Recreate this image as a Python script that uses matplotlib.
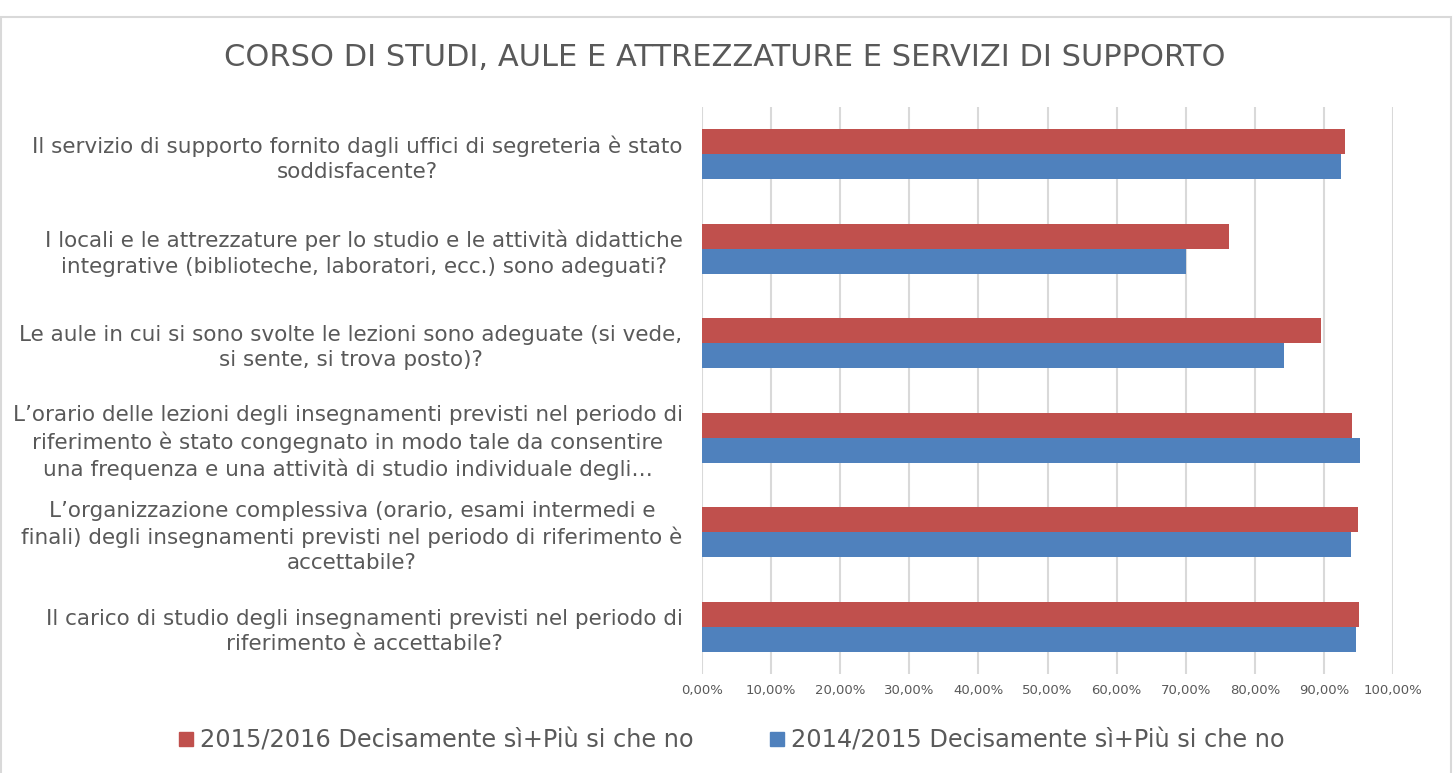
import matplotlib.pyplot as plt
from matplotlib.patches import Rectangle, Patch
import numpy as np

# categories, bottom to top
domande = [
    "Il carico di studio degli insegnamenti previsti nel periodo di\nriferimento è accettabile?",
    "L\u2019organizzazione complessiva (orario, esami intermedi e\nfinali) degli insegnamenti previsti nel periodo di riferimento è\naccettabile?",
    "L\u2019orario delle lezioni degli insegnamenti previsti nel periodo di\nriferimento è stato congegnato in modo tale da consentire\nuna frequenza e una attività di studio individuale degli\u2026",
    "Le aule in cui si sono svolte le lezioni sono adeguate (si vede,\nsi sente, si trova posto)?",
    "I locali e le attrezzature per lo studio e le attività didattiche\nintegrative (biblioteche, laboratori, ecc.) sono adeguati?",
    "Il servizio di supporto fornito dagli uffici di segreteria è stato\nsoddisfacente?",
]
val_2016 = [95.1, 94.9, 94.1, 89.6, 76.3, 93.0]
val_2015 = [94.7, 93.9, 95.2, 84.2, 70.1, 92.4]
lab_2016 = "2015/2016 Decisamente sì+Più si che no"
lab_2015 = "2014/2015 Decisamente sì+Più si che no"
tick_vals = np.arange(0, 101, 10)

rosso = '#C0504D'
blu = '#4F81BD'
grigio = '#595959'

plt.rcParams['font.family'] = ['DejaVu Sans']
fig = plt.figure(figsize=(14.55, 7.73), dpi=100)
fig.patches.append(Rectangle((0.0005, -0.01), 0.997, 0.988, transform=fig.transFigure,
                             fill=False, edgecolor='#d9d9d9', linewidth=1.5))

ax = fig.add_axes([0.4825, 0.1281, 0.4749, 0.7335])
y = np.arange(len(domande))
h = 0.265
ax.barh(y + h / 2, val_2016, height=h, color=rosso, zorder=3)
ax.barh(y - h / 2, val_2015, height=h, color=blu, zorder=3)

ax.set_xlim(0, 100)
ax.set_ylim(-0.5, len(domande) - 0.5)
ax.set_xticks(tick_vals)
ax.set_xticklabels(['{:.2f}%'.format(v).replace('.', ',') for v in tick_vals],
                   fontsize=9.5, color=grigio)
ax.set_yticks(y)
ax.set_yticklabels(domande, fontsize=15.5, color=grigio, multialignment='center',
                   linespacing=1.32)
ax.tick_params(length=0)
ax.tick_params(axis='y', pad=14)
ax.tick_params(axis='x', pad=7)
ax.grid(axis='x', color='#d9d9d9', linewidth=1.5, zorder=0)
for s in ax.spines.values():
    s.set_visible(False)

fig.text(0.498, 0.925, "CORSO DI STUDI, AULE E ATTREZZATURE E SERVIZI DI SUPPORTO",
         ha='center', va='center', fontsize=22, color=grigio)

handles = [Patch(color=rosso, label=lab_2016), Patch(color=blu, label=lab_2015)]
fig.legend(handles=handles, loc='center', bbox_to_anchor=(0.503, 0.042), ncol=2,
           frameon=False, fontsize=17.3, labelcolor=grigio, handlelength=0.55,
           handleheight=0.55, handletextpad=0.3, columnspacing=3.2)

fig.savefig('out.png', dpi=100)
